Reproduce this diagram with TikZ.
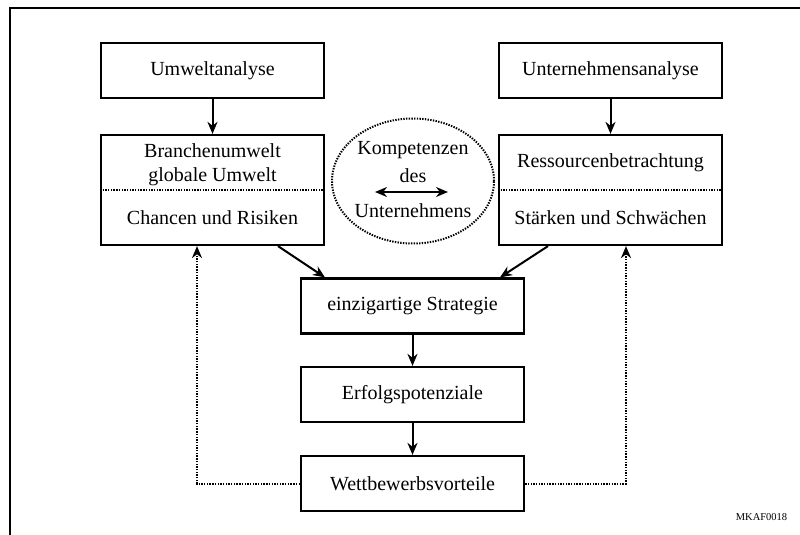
\documentclass[tikz,border=0pt]{standalone}
\usepackage{fontspec}
\setmainfont{Liberation Serif}
\usetikzlibrary{shapes,arrows.meta,calc}

\begin{document}
\begin{tikzpicture}[x=1pt,y=-1pt,font=\fontsize{20}{24}\selectfont,
  box/.style={draw,line width=2.2pt,minimum width=223pt,minimum height=55pt,inner sep=0pt},
  pfeil/.style={line width=2pt,-{Stealth[length=12pt,width=10pt]}},
  rueck/.style={line width=2pt,dash pattern=on 1.4pt off 1.3pt,-{Stealth[length=12pt,width=10pt]}},
  teiler/.style={line width=2pt,dash pattern=on 1.4pt off 1.3pt}]
\useasboundingbox (0,0) rectangle (800,535);
\draw[line width=1.8pt] (800,8) -- (10,8) -- (10,535);

% obere Reihe
\node[box] (umwelt) at (212.5,70.5) {Umweltanalyse};
\node[box] (unternehmen) at (610.5,70.5) {Unternehmensanalyse};

% Analysekaesten mit Teiler
\node[box,minimum height=110pt] (branche) at (212.5,190) {};
\node[box,minimum height=110pt] (ressourcen) at (610.5,190) {};
\draw[teiler] (branche.west) -- (branche.east);
\draw[teiler] (ressourcen.west) -- (ressourcen.east);
\node[align=center] (brancheoben) at (212.5,165) {Branchenumwelt\\globale Umwelt};
\node (chancen) at (212.5,218) {Chancen und Risiken};
\node (ressoben) at (610.5,163) {Ressourcenbetrachtung};
\node (staerken) at (610.5,218) {Stärken und Schwächen};

% Kompetenzen
\node[draw,ellipse,teiler,minimum width=162pt,minimum height=125pt] (kompetenz) at (413,181) {};
\node (kompo) at (413,150) {Kompetenzen};
\node (des) at (413,176) {des};
\node (unt) at (413,211) {Unternehmens};
\coordinate (kl) at (375,192);
\coordinate (kr) at (448,192);
\draw[line width=2pt,{Stealth[length=12pt,width=10pt]}-{Stealth[length=12pt,width=10pt]}] (kl) -- (kr);

% mittlere Spalte
\node[box] (strategie) at (412.5,306) {einzigartige Strategie};
\node[box] (erfolg) at (412.5,394.5) {Erfolgspotenziale};
\node[box] (vorteil) at (412.5,483.5) {Wettbewerbsvorteile};

\draw[pfeil] (umwelt) -- (branche);
\draw[pfeil] (unternehmen) -- (ressourcen);
\draw[pfeil] ([xshift=65.5pt]branche.south) -- ([xshift=-87.5pt]strategie.north);
\draw[pfeil] ([xshift=-62.5pt]ressourcen.south) -- ([xshift=87.5pt]strategie.north);
\foreach \a/\b in {strategie/erfolg,erfolg/vorteil}
  \draw[pfeil] (\a) -- (\b);

% Rueckkopplung
\draw[rueck] (vorteil.west) -| ([xshift=-15.5pt]branche.south);
\draw[rueck] (vorteil.east) -| ([xshift=15.5pt]ressourcen.south);

\node[font=\fontsize{10.5}{12}\selectfont] (kennung) at (761.5,517) {MKAF0018};
\end{tikzpicture}
\end{document}
